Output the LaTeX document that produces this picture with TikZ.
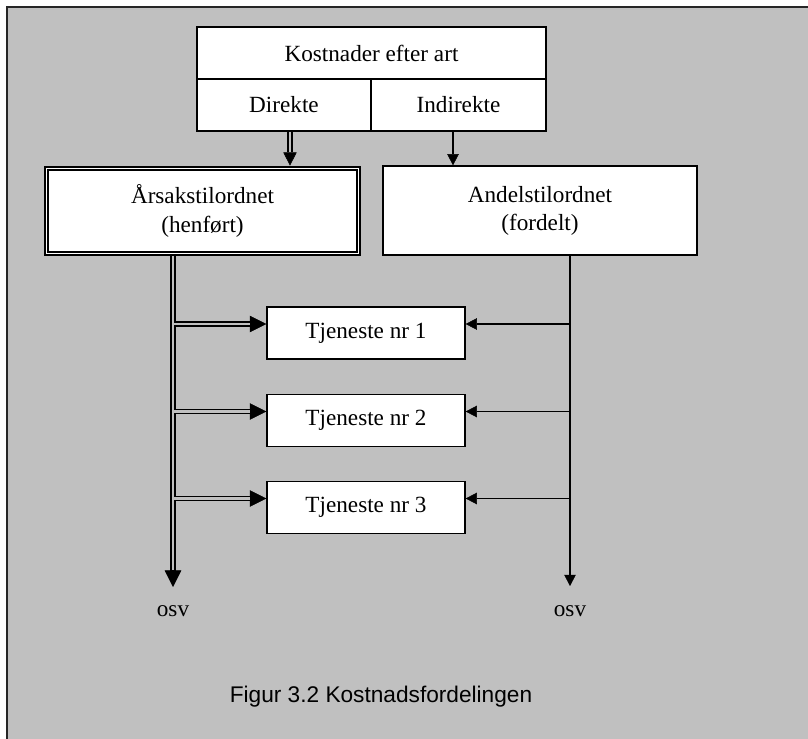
\documentclass[tikz,border=0pt]{standalone}
\usepackage{fontspec}
\setmainfont{Liberation Serif}
\newfontfamily\capfont{Liberation Sans}
\usetikzlibrary{arrows.meta}
\definecolor{bg}{HTML}{C0C0C0}

\begin{document}
\begin{tikzpicture}[x=0.02cm, y=-0.02cm,
  box/.style={draw, fill=white, line width=0.8pt, align=center, inner sep=0pt,
    font=\fontsize{13.2}{16}\selectfont},
  onearr/.style={line width=0.8pt, -{Triangle[length=6.4pt, width=6.6pt, line width=0.3pt]}},
  twoarr/.style={line width=3.2pt, -{Triangle[length=#1, width=#1, line width=0.3pt]}},
  twoarr/.default=9.4pt,
  twogap/.style={line width=1.2pt, draw=bg, shorten >=#1},
  twogap/.default=9.4pt]
  \useasboundingbox (0,0) rectangle (808,739);
  \fill[white] (0,0) rectangle (808,739);
  \fill[bg] (7,7) rectangle (808,739);
  \draw[line width=1.2pt, black!85] (7,739) -- (7,7) -- (808,7);

  \node[box, minimum width=6.98cm, minimum height=1.04cm] (art) at (371.5,53) {Kostnader efter art};
  \node[box, minimum width=3.48cm, minimum height=1.04cm] (dir) at (284,105) {Direkte};
  \node[box, minimum width=3.5cm, minimum height=1.04cm] (ind) at (458.5,105) {Indirekte};
  \node[box, double=white, double distance=1pt, line width=1.1pt, outer sep=1.6pt,
    minimum width=6.24cm, minimum height=1.7cm] (ars) at (202.5,211) {Årsakstilordnet\\(henført)};
  \node[box, minimum width=6.28cm, minimum height=1.78cm] (and) at (540,210.5) {Andelstilordnet\\(fordelt)};
  \foreach \i/\y in {1/333, 2/420.5, 3/507.5}
    \node[box, minimum width=3.96cm, minimum height=1.04cm] (t\i) at (366,\y) {Tjeneste nr \i};

  \coordinate (lend) at (173,587);
  \coordinate (rend) at (570,586);
  \node[font=\fontsize{13.2}{16}\selectfont] (losv) at (173,611) {osv};
  \node[font=\fontsize{13.2}{16}\selectfont] (rosv) at (570,611) {osv};
  \foreach \i in {1,2,3} {
    \coordinate (l\i) at ([yshift=0.18cm]t\i.west);
    \coordinate (r\i) at ([yshift=0.18cm]t\i.east);
  }

  \draw[twoarr=7.6pt] ([xshift=0.12cm]dir.south) -- ([xshift=0.12cm]dir.south |- ars.north);
  \draw[twoarr] (ars.south -| lend) -- (lend);
  \foreach \i in {1,2,3} \draw[twoarr] (l\i -| lend) -- (l\i);
  \draw[twogap=7.6pt] ([xshift=0.12cm]dir.south) -- ([xshift=0.12cm]dir.south |- ars.north);
  \draw[twogap] (ars.south -| lend) -- (lend);
  \foreach \i in {1,2,3} \draw[twogap] (l\i -| lend) -- (l\i);

  \draw[onearr] ([xshift=-0.11cm]ind.south) -- ([xshift=-0.11cm]ind.south |- and.north);
  \draw[onearr] (and.south -| rend) -- (rend);
  \foreach \i in {1,2,3} \draw[onearr] (r\i -| rend) -- (r\i);

  \node[font=\capfont\fontsize{12.9}{15}\selectfont] (cap) at (381,697) {Figur 3.2 Kostnadsfordelingen};
\end{tikzpicture}
\end{document}
